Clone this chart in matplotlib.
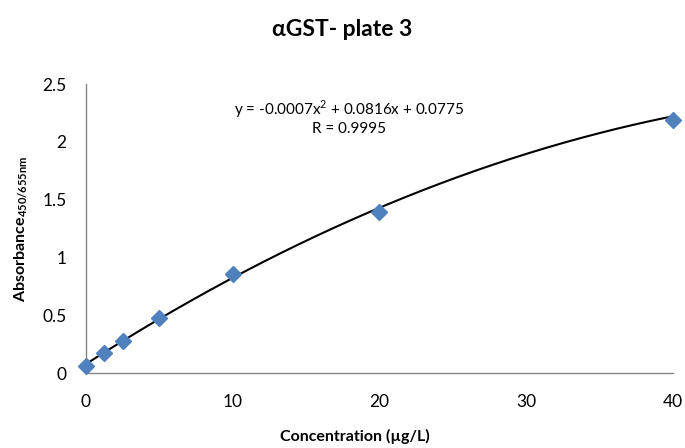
import matplotlib.pyplot as plt
import numpy as np

plt.rcParams['font.family'] = ['Lato', 'DejaVu Sans']
plt.rcParams['mathtext.fontset'] = 'custom'
plt.rcParams['mathtext.rm'] = 'Lato'
plt.rcParams['mathtext.bf'] = 'Lato:bold'

conc = [0, 1.25, 2.5, 5, 10, 20, 40]
absorb = [0.06, 0.17, 0.28, 0.48, 0.86, 1.39, 2.19]
coef = [-0.0007, 0.0816, 0.0775]  # trendline from the chart label

fig = plt.figure(figsize=(6.85, 4.48), dpi=100)
ax = fig.add_axes([0.1255, 0.1674, 0.857, 0.645])

xs = np.linspace(0, 40, 200)
ax.plot(xs, np.polyval(coef, xs), color='black', lw=1.5, zorder=2)
ax.plot(conc, absorb, 'D', color='#4F81BD', ms=8, zorder=3)

ax.set_xlim(0, 40)
ax.set_ylim(0, 2.5)
ax.set_xticks([0, 10, 20, 30, 40])
ax.set_yticks([0, 0.5, 1, 1.5, 2, 2.5])
ax.set_yticklabels(['0', '0.5', '1', '1.5', '2', '2.5'])
ax.tick_params(length=0, labelsize=12.5)
ax.tick_params(axis='y', pad=14)
ax.tick_params(axis='x', pad=15)
for s in ['top', 'right']:
    ax.spines[s].set_visible(False)
for s in ['left', 'bottom']:
    ax.spines[s].set_color('#868686')
    ax.spines[s].set_linewidth(1)

ax.set_xlabel('Concentration (µg/L)', fontsize=11.5, fontweight='bold', va='center')
ax.xaxis.set_label_coords(0.458, -0.221)
ax.set_ylabel('Absorbance$_{\\mathbf{450/655nm}}$', fontsize=11.5, fontweight='bold', va='center')
ax.yaxis.set_label_coords(-0.112, 0.5)
fig.text(0.5, 1 - 29 / 448, 'αGST- plate 3', fontsize=16.5, fontweight='bold',
         ha='center', va='center')

ax.text(0.448, 0.952, 'y = -0.0007x$^2$ + 0.0816x + 0.0775\nR = 0.9995',
        transform=ax.transAxes, ha='center', va='top', fontsize=11,
        linespacing=1.25)

for line in ax.lines:
    line.set_clip_on(False)

plt.savefig('out.png', dpi=100)
